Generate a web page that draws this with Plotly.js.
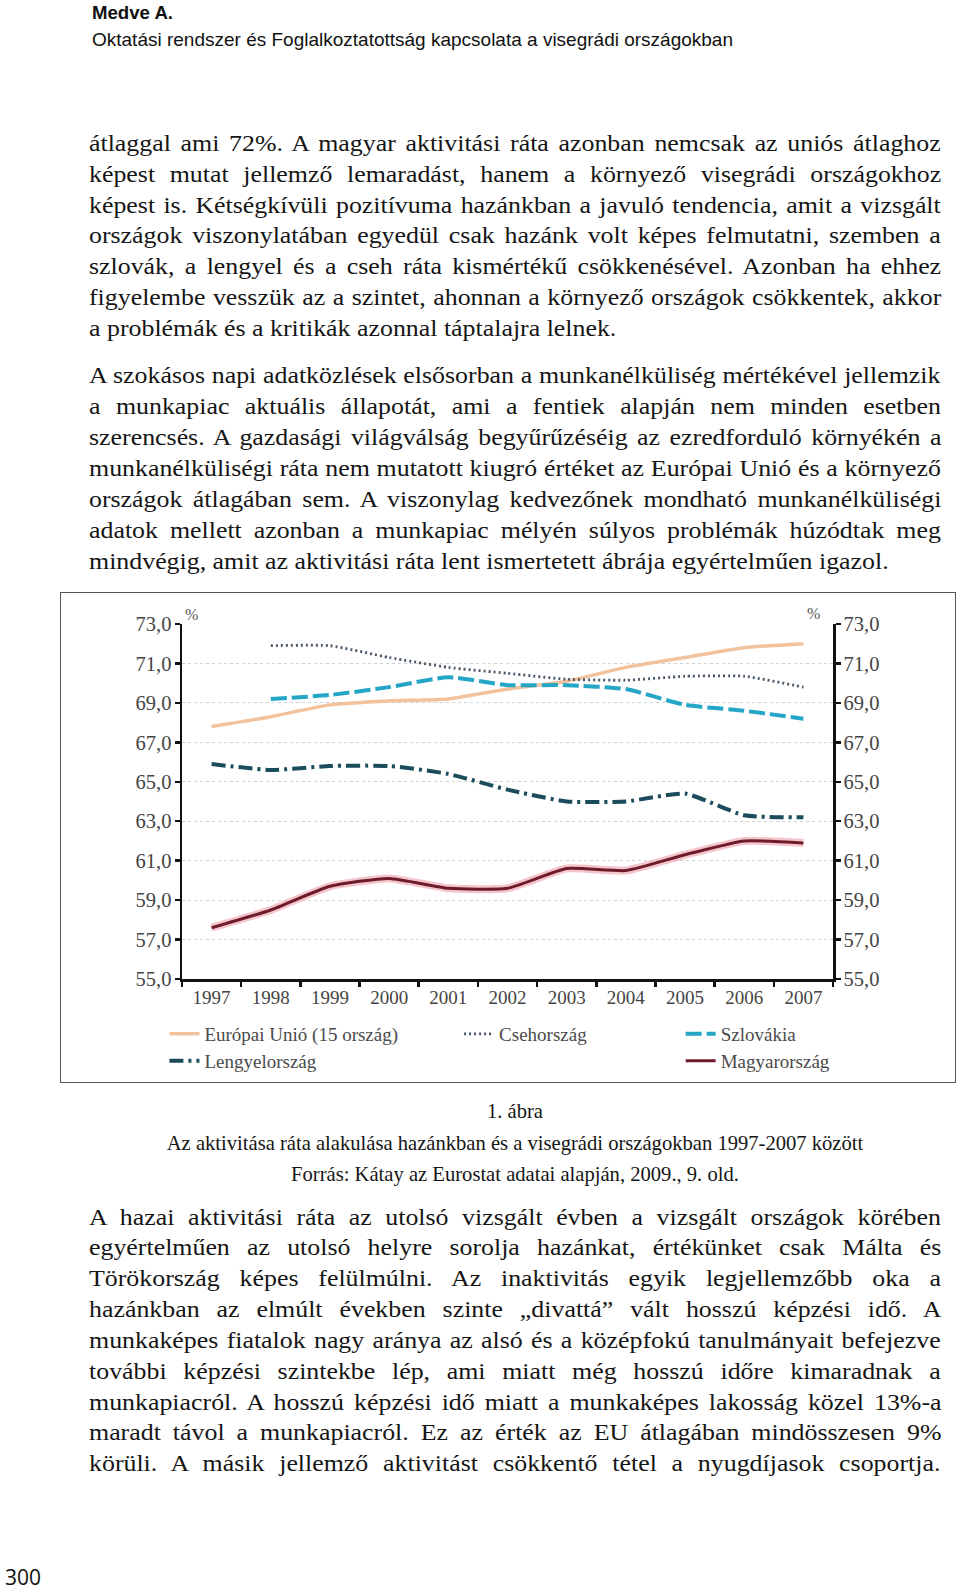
<!DOCTYPE html>
<html><head><meta charset="utf-8">
<script src="https://cdn.plot.ly/plotly-3.0.1.min.js"></script>
<style>
body{margin:0;background:#fff;}
#page{position:relative;width:960px;height:1593px;overflow:hidden;background:#fff;}
.ln{position:absolute;left:89px;font-family:"Liberation Serif","Times New Roman",serif;font-size:22.5px;line-height:30px;height:30px;white-space:nowrap;color:#151515;transform-origin:0 0;}
.cap{position:absolute;left:89px;width:852px;text-align:center;font-family:"Liberation Serif","Times New Roman",serif;font-size:20.6px;line-height:26px;color:#151515;white-space:nowrap;}
.hd{position:absolute;left:92px;font-family:"Liberation Sans Narrow","Arial Narrow","Liberation Sans",Arial,sans-serif;white-space:nowrap;color:#111;transform-origin:0 0;}
#frame{position:absolute;left:60px;top:592px;width:896px;height:491px;box-sizing:border-box;border:1px solid #555;pointer-events:none;}
#chart{position:absolute;left:61px;top:593px;width:894px;height:540px;}
#pnum{position:absolute;left:5px;top:1564px;font-family:"Open Sans","Noto Sans",sans-serif;font-size:21px;line-height:26px;color:#111;}
</style></head>
<body><div id="page">
<div class="hd" id="h1" style="top:2px;font-size:19px;font-weight:bold;line-height:22px;">Medve A.</div>
<div class="hd" id="h2" style="top:29px;font-size:19px;line-height:22px;">Oktatási rendszer és Foglalkoztatottság kapcsolata a visegrádi országokban</div>
<div class="cap" style="top:1098px;">1. ábra</div>
<div class="cap" style="top:1130px;">Az aktivitása ráta alakulása hazánkban és a visegrádi országokban 1997-2007 között</div>
<div class="cap" style="top:1161px;">Forrás: Kátay az Eurostat adatai alapján, 2009., 9. old.</div>
<div id="chart"></div>
<div id="frame"></div>
<div id="pnum">300</div>
</div>
<script>
// ---- data ----
const years = ['1997','1998','1999','2000','2001','2002','2003','2004','2005','2006','2007'];
const euValues = [67.8, 68.3, 68.9, 69.1, 69.2, 69.7, 70.1, 70.8, 71.3, 71.8, 72.0];
const czValues = [null, 71.9, 71.9, 71.3, 70.8, 70.5, 70.2, 70.15, 70.35, 70.35, 69.8];
const skValues = [null, 69.2, 69.4, 69.8, 70.3, 69.9, 69.9, 69.7, 68.9, 68.6, 68.2];
const plValues = [65.9, 65.6, 65.8, 65.8, 65.4, 64.6, 64.0, 64.0, 64.4, 63.3, 63.2];
const huValues = [57.6, 58.5, 59.7, 60.1, 59.6, 59.6, 60.6, 60.5, 61.3, 62.0, 61.9];
const seriesNames = ['Európai Unió (15 ország)','Csehország','Szlovákia','Lengyelország','Magyarország'];

// ---- page text ----
const para1 = [
 "átlaggal ami 72%. A magyar aktivitási ráta azonban nemcsak az uniós átlaghoz",
 "képest mutat jellemző lemaradást, hanem a környező visegrádi országokhoz",
 "képest is. Kétségkívüli pozitívuma hazánkban a javuló tendencia, amit a vizsgált",
 "országok viszonylatában egyedül csak hazánk volt képes felmutatni, szemben a",
 "szlovák, a lengyel és a cseh ráta kismértékű csökkenésével. Azonban ha ehhez",
 "figyelembe vesszük az a szintet, ahonnan a környező országok csökkentek, akkor",
 "a problémák és a kritikák azonnal táptalajra lelnek."];
const para2 = [
 "A szokásos napi adatközlések elsősorban a munkanélküliség mértékével jellemzik",
 "a munkapiac aktuális állapotát, ami a fentiek alapján nem minden esetben",
 "szerencsés. A gazdasági világválság begyűrűzéséig az ezredforduló környékén a",
 "munkanélküliségi ráta nem mutatott kiugró értéket az Európai Unió és a környező",
 "országok átlagában sem. A viszonylag kedvezőnek mondható munkanélküliségi",
 "adatok mellett azonban a munkapiac mélyén súlyos problémák húzódtak meg",
 "mindvégig, amit az aktivitási ráta lent ismertetett ábrája egyértelműen igazol."];
const para3 = [
 "A hazai aktivitási ráta az utolsó vizsgált évben a vizsgált országok körében",
 "egyértelműen az utolsó helyre sorolja hazánkat, értékünket csak Málta és",
 "Törökország képes felülmúlni. Az inaktivitás egyik legjellemzőbb oka a",
 "hazánkban az elmúlt években szinte „divattá” vált hosszú képzési idő. A",
 "munkaképes fiatalok nagy aránya az alsó és a középfokú tanulmányait befejezve",
 "további képzési szintekbe lép, ami miatt még hosszú időre kimaradnak a",
 "munkapiacról. A hosszú képzési idő miatt a munkaképes lakosság közel 13%-a",
 "maradt távol a munkapiacról. Ez az érték az EU átlagában mindösszesen 9%",
 "körüli. A másik jellemző aktivitást csökkentő tétel a nyugdíjasok csoportja."];

const page = document.getElementById('page');
const SX = 1.15, COLW = 852;
function addPara(lines, firstCenter, justifyLast){
  lines.forEach((t,i)=>{
    const d = document.createElement('div');
    const last = i === lines.length-1;
    d.className = 'ln';
    d.style.top = (firstCenter + i*30.85 - 15.5) + 'px';
    d.style.transform = 'scaleX(' + SX + ')';
    d.textContent = t;
    page.appendChild(d);
    if(!last || justifyLast){
      const w = d.offsetWidth;
      const n = (t.match(/ /g) || []).length;
      if(n > 0) d.style.wordSpacing = ((COLW/SX - w)/n) + 'px';
    }
  });
}
addPara(para1, 144.3, false);
addPara(para2, 376.9, false);
addPara(para3, 1218, true);

// fit header widths
function fitW(id, w){
  const el = document.getElementById(id);
  const r = el.getBoundingClientRect().width;
  el.style.transform = 'scaleX(' + (w/r) + ')';
}
fitW('h1', 81); fitW('h2', 641);

// ---- chart ----
const serif = 'Liberation Serif, Times New Roman, serif';
const lgFont = {family: serif, size: 19, color: '#4a4a4a'};
function smooth(){ return {shape:'spline', smoothing:0.5}; }
const traces = [
  {x: years, y: euValues, name: seriesNames[0], mode:'lines', legend:'legend',
   line: Object.assign({color:'#f2c29d', width:3.5}, smooth())},
  {x: years, y: czValues, name: seriesNames[1], mode:'lines', legend:'legend2',
   line: Object.assign({color:'#4a5868', width:2.8, dash:'2px,3px'}, smooth())},
  {x: years, y: skValues, name: seriesNames[2], mode:'lines', legend:'legend3',
   line: Object.assign({color:'#25a6c6', width:4, dash:'16px,5px'}, smooth())},
  {x: years, y: plValues, name: seriesNames[3], mode:'lines', legend:'legend4',
   line: Object.assign({color:'#1b4c5c', width:4, dash:'14px,5px,3px,5px'}, smooth())},
  {x: years, y: huValues, name: seriesNames[4], mode:'lines', yaxis:'y2', showlegend:false, hoverinfo:'skip',
   line: Object.assign({color:'rgba(236,150,165,0.55)', width:8}, smooth())},
  {x: years, y: huValues, name: seriesNames[4], mode:'lines', yaxis:'y2', legend:'legend5',
   line: Object.assign({color:'#6e1c2c', width:3}, smooth())}
];
const yCommon = {
  range:[55,73], tick0:55, dtick:2, tickformat:'.1f', fixedrange:true,
  showline:true, linecolor:'#111', linewidth:2.5,
  ticks:'outside', ticklen:5, tickwidth:2.5, tickcolor:'#111', ticklabelstandoff:-1,
  zeroline:false, tickfont:{family: serif, size:20.5, color:'#444'}
};
const lx1 = -0.027, lx2 = 0.4256, lx3 = 0.766, ly1 = -0.155, ly2 = -0.231;
function lg(x,y){ return {x:x, y:y, xanchor:'left', yanchor:'middle', bgcolor:'rgba(0,0,0,0)', font:lgFont, borderwidth:0}; }
const layout = {
  width:894, height:540,
  margin:{l:120.7, r:121.7, t:31, b:154},
  paper_bgcolor:'rgba(0,0,0,0)', plot_bgcolor:'rgba(0,0,0,0)',
  separators:', ',
  showlegend:true,
  xaxis:{type:'category', range:[-0.5,10.5], tickson:'boundaries', ticks:'outside', ticklen:5, tickwidth:2.5, tickcolor:'#111',
         showline:true, linecolor:'#111', linewidth:2.5, showgrid:false, fixedrange:true,
         tickfont:{family: serif, size:19, color:'#444'}},
  yaxis:Object.assign({}, yCommon, {showgrid:true, gridcolor:'#cdd2d5', griddash:'dot', gridwidth:1.2}),
  yaxis2:Object.assign({}, yCommon, {overlaying:'y', side:'right', showgrid:false}),
  legend:lg(lx1, ly1), legend2:lg(lx2, ly1), legend3:lg(lx3, ly1), legend4:lg(lx1, ly2), legend5:lg(lx3, ly2),
  annotations:[
    {xref:'paper', yref:'paper', x:0.002, y:1.028, text:'%', showarrow:false, xanchor:'left', yanchor:'middle', font:{family:serif, size:16, color:'#555'}},
    {xref:'paper', yref:'paper', x:0.9827, y:1.03, text:'%', showarrow:false, xanchor:'right', yanchor:'middle', font:{family:serif, size:16, color:'#555'}}
  ]
};
Plotly.newPlot('chart', traces, layout, {displayModeBar:false, staticPlot:true});
</script>
</body></html>
